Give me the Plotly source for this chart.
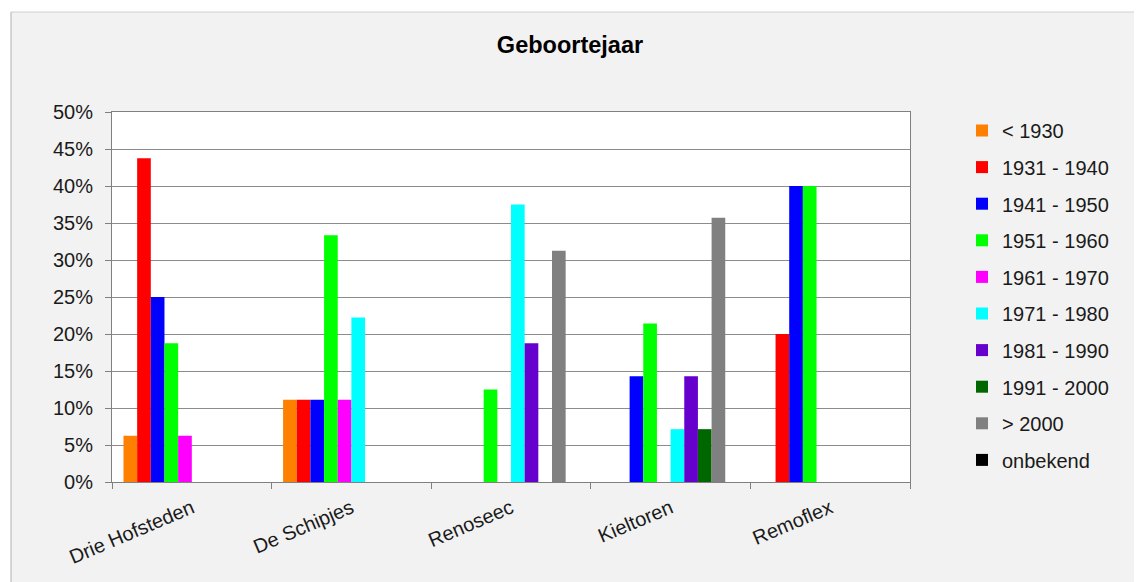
import plotly.graph_objects as go

categories = ["Drie Hofsteden", "De Schipjes", "Renoseec", "Kieltoren", "Remoflex"]
series_names = ["< 1930", "1931 - 1940", "1941 - 1950", "1951 - 1960", "1961 - 1970",
                "1971 - 1980", "1981 - 1990", "1991 - 2000", "> 2000", "onbekend"]
colors = ["#FF8000", "#FF0000", "#0000FF", "#00FF00", "#FF00FF",
          "#00FFFF", "#6600CC", "#006600", "#808080", "#000000"]

# percentages per series, one value per category
v_lt1930 = [6.25, 11.11, 0, 0, 0]
v_1931_1940 = [43.75, 11.11, 0, 0, 20.0]
v_1941_1950 = [25.0, 11.11, 0, 14.29, 40.0]
v_1951_1960 = [18.75, 33.33, 12.5, 21.43, 40.0]
v_1961_1970 = [6.25, 11.11, 0, 0, 0]
v_1971_1980 = [0, 22.22, 37.5, 7.14, 0]
v_1981_1990 = [0, 0, 18.75, 14.29, 0]
v_1991_2000 = [0, 0, 0, 7.14, 0]
v_gt2000 = [0, 0, 31.25, 35.71, 0]
v_onbekend = [0, 0, 0, 0, 0]

series_values = [v_lt1930, v_1931_1940, v_1941_1950, v_1951_1960, v_1961_1970,
                 v_1971_1980, v_1981_1990, v_1991_2000, v_gt2000, v_onbekend]

y_ticks = [0, 5, 10, 15, 20, 25, 30, 35, 40, 45, 50]
y_tick_labels = [f"{v}%" for v in y_ticks]

FONT = "Liberation Sans, Arial, sans-serif"
TXT = "#1a1a1a"
FS = 20

fig = go.Figure()
for i, (name, vals, col) in enumerate(zip(series_names, series_values, colors)):
    fig.add_trace(go.Bar(x=categories, y=vals, name=name, marker_color=col,
                         marker_line_width=0, legendgroup=str(i)))

W, H = 1142, 582
OFF = 8  # page body margin offset
# desired plot area in screen pixels: x 112..910, y 112..482
PX0, PX1, PY0, PY1 = 112, 910, 112, 482
L, T = PX0 - OFF, PY0 - OFF
pw, ph = PX1 - PX0, PY1 - PY0
R, B = W - L - pw, H - T - ph

def px_x(p):
    return (p - PX0) / pw

def px_y(p):
    return (PY1 - p) / ph

fig.update_layout(
    width=W, height=H,
    margin=dict(l=L, r=R, t=T, b=B, autoexpand=False),
    paper_bgcolor="#F2F2F2",
    plot_bgcolor="#FFFFFF",
    barmode="group",
    bargap=0.144,
    bargroupgap=0,
    font=dict(family=FONT, size=FS, color=TXT),
    title=dict(text="<b>Geboortejaar</b>", x=px_x(570), xref="paper", xanchor="center",
               y=1 - (45 - OFF) / H, yanchor="middle",
               font=dict(size=23.5, color="#000000", family=FONT)),
    legend=dict(x=px_x(962), y=px_y(111), xanchor="left", yanchor="top",
                font=dict(size=FS, color=TXT, family=FONT),
                bgcolor="rgba(0,0,0,0)", tracegroupgap=7.6, itemwidth=30,
                maxheight=500),
    xaxis=dict(type="category", tickson="boundaries", ticks="outside", ticklen=6,
               tickcolor="#808080", tickangle=-23, ticklabelstandoff=6,
               showline=True, linecolor="#808080",
               mirror=True, showgrid=False, tickfont=dict(size=FS, color=TXT)),
    yaxis=dict(range=[0, 50], tickmode="array", tickvals=y_ticks, ticktext=y_tick_labels,
               ticks="outside", ticklen=6, ticklabelstandoff=8,
               tickcolor="#808080", showline=True, linecolor="#808080", mirror=True,
               gridcolor="#8C8C8C", gridwidth=1, zeroline=False,
               tickfont=dict(size=FS, color=TXT)),
    shapes=[
        # white area outside the chart frame (top strip and left strip)
        dict(type="rect", xref="paper", yref="paper", x0=px_x(-10), x1=px_x(W + 20),
             y0=px_y(12), y1=px_y(-10), fillcolor="#FFFFFF", line_width=0, layer="below"),
        dict(type="rect", xref="paper", yref="paper", x0=px_x(-10), x1=px_x(11),
             y0=px_y(H + 20), y1=px_y(12), fillcolor="#FFFFFF", line_width=0, layer="below"),
        dict(type="line", xref="paper", yref="paper", x0=px_x(11), x1=px_x(W + 20),
             y0=px_y(12), y1=px_y(12), line=dict(color="#D0D0D0", width=1)),
        dict(type="line", xref="paper", yref="paper", x0=px_x(11), x1=px_x(11),
             y0=px_y(12), y1=px_y(H + 20), line=dict(color="#B0B0B0", width=1)),
    ],
)

fig.write_html("out.html")
